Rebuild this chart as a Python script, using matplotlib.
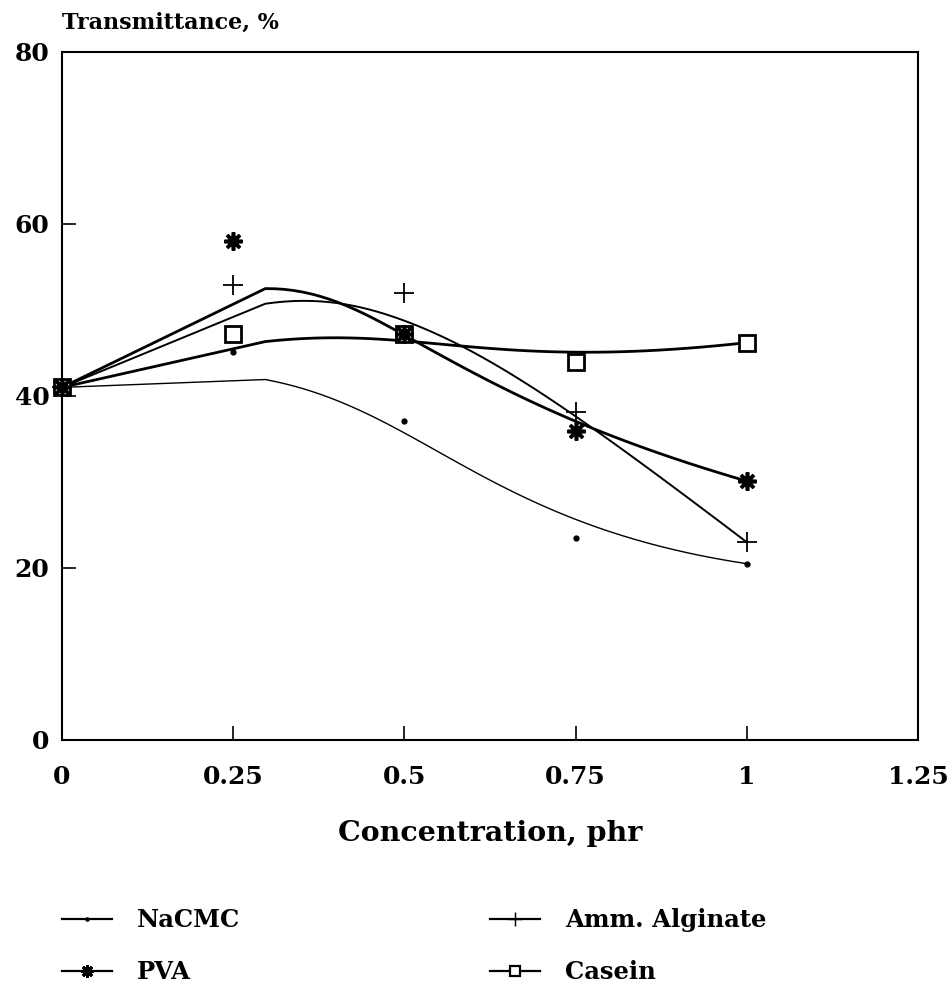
import numpy as np
import matplotlib
matplotlib.use("Agg")
import matplotlib.pyplot as plt

plt.rcParams['font.family'] = ['DejaVu Serif']
plt.rcParams['font.weight'] = 'bold'

# data
conc = [0, 0.25, 0.5, 0.75, 1.0]
nacmc = [41, 45.1, 37.1, 23.5, 20.5]
pva = [41, 58, 47.2, 35.9, 30.1]
alginate = [41, 52.9, 52, 38.1, 23]
casein = [41, 47.2, 47.2, 44, 46.2]


def bspline(px, py, n=50):
    # clamped cubic B-spline with the data points as control polygon,
    # first span drawn as one straight chord like the old plotting package
    px = np.asarray(px, float)
    py = np.asarray(py, float)
    k = 3
    m = len(px)
    inner = np.linspace(0, 1, m - k + 1)[1:-1]
    knots = np.concatenate([[0] * (k + 1), inner, [1] * (k + 1)])
    u = np.concatenate([[0], np.linspace(0.25, 1, n)])
    u[-1] = 1 - 1e-9
    # Cox-de Boor
    N = np.zeros((len(knots) - 1, len(u)))
    for i in range(len(knots) - 1):
        N[i] = (u >= knots[i]) & (u < knots[i + 1])
    for d in range(1, k + 1):
        Nn = np.zeros((len(knots) - 1 - d, len(u)))
        for i in range(len(knots) - 1 - d):
            a = knots[i + d] - knots[i]
            b = knots[i + d + 1] - knots[i + 1]
            t1 = (u - knots[i]) / a * N[i] if a > 0 else 0
            t2 = (knots[i + d + 1] - u) / b * N[i + 1] if b > 0 else 0
            Nn[i] = t1 + t2
        N = Nn
    return N.T @ px, N.T @ py


series = [
    ("Casein", casein, dict(marker='s', ms=11, mew=2.0, mfc='white', lw=2.0)),
    ("NaCMC", nacmc, dict(marker='o', ms=3.5, mew=1.0, lw=1.0)),
    ("Amm. Alginate", alginate, dict(marker='+', ms=15, mew=1.3, lw=1.4)),
    ("PVA", pva, dict(marker=(8, 2, 0), ms=13, mew=2.6, lw=2.0)),
]

fig = plt.figure(figsize=(9.52, 9.86), dpi=100)
ax = fig.add_axes([0.0651, 0.2495, 0.8992, 0.6978])

handles = {}
for name, vals, st in series:
    cx, cy = bspline(conc, vals)
    ax.plot(cx, cy, color='black', lw=st['lw'], solid_joinstyle='round')
for name, vals, st in series:
    ax.plot(conc, vals, ls='none', color='black', marker=st['marker'],
            ms=st['ms'], mew=st['mew'], mfc=st.get('mfc', 'black'),
            mec='black', clip_on=False)
    handles[name] = plt.Line2D([], [], color='black', lw=1.6,
                               marker=st['marker'], ms=st['ms'] * 0.7,
                               mew=st['mew'] * 0.8,
                               mfc=st.get('mfc', 'black'), mec='black')

ax.set_xlim(0, 1.25)
ax.set_ylim(0, 80)
ax.set_xticks([0, 0.25, 0.5, 0.75, 1, 1.25])
ax.set_xticklabels(['0', '0.25', '0.5', '0.75', '1', '1.25'])
ax.set_yticks([0, 20, 40, 60, 80])
ax.tick_params(direction='in', length=10, width=1.2, labelsize=18)
ax.tick_params(axis='x', pad=18)
ax.tick_params(axis='y', pad=9)
for sp in ax.spines.values():
    sp.set_linewidth(1.5)

fig.text(0.0651, 0.966, "Transmittance, %", fontsize=16, fontweight='bold',
         ha='left', va='bottom')
ax.set_xlabel("Concentration, phr", fontsize=20.5, fontweight='bold',
              labelpad=22)

leg_kw = dict(loc='upper left', frameon=False, fontsize=17.5,
              handlelength=2.06, handletextpad=1.03, labelspacing=1.15,
              borderpad=0, borderaxespad=0)
fig.legend([handles["NaCMC"], handles["PVA"]], ["NaCMC", "PVA"],
           bbox_to_anchor=(62 / 952, 0.079), **leg_kw)
fig.legend([handles["Amm. Alginate"], handles["Casein"]],
           ["Amm. Alginate", "Casein"],
           bbox_to_anchor=(490 / 952, 0.079), **leg_kw)

fig.savefig("out.png", dpi=100)
